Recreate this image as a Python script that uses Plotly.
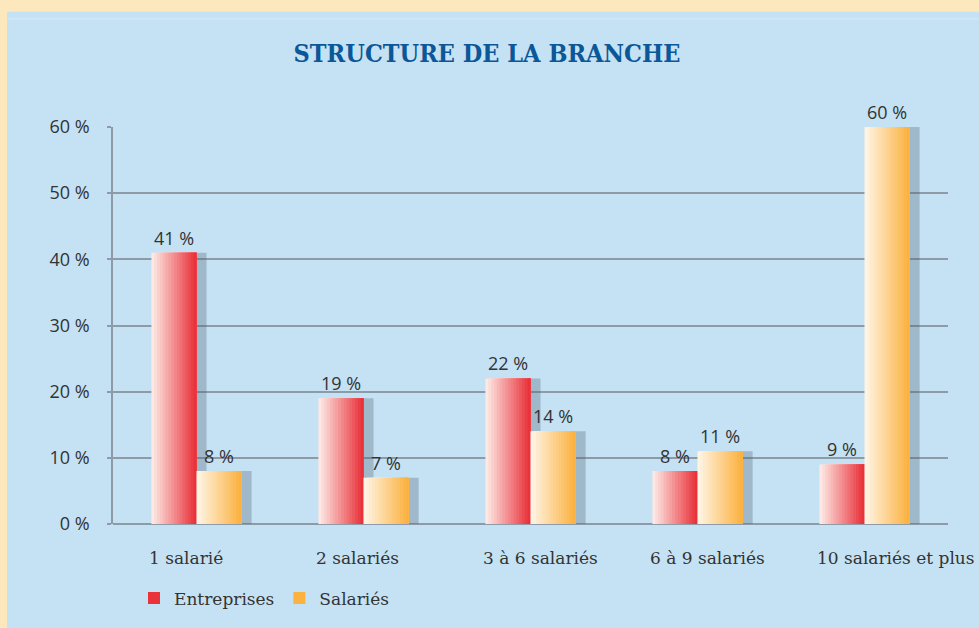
import plotly.graph_objects as go

# data
categories = ["1 salarié", "2 salariés", "3 à 6 salariés", "6 à 9 salariés", "10 salariés et plus"]
entreprises = [41, 19, 22, 8, 9]
salaries = [8, 7, 14, 11, 60]
y_ticks = [0, 10, 20, 30, 40, 50, 60]
y_ticktext = [f"{v} %" for v in y_ticks]

W, H = 979, 628
L, R, T, B = 113, 31, 127, 101
PW, PH = W - L - R, H - T - B

BAR_W = 0.27
N_SLICES = 16
SHADOW_DX = 0.06


def px_x(px):
    return (px - L) / PW


def px_y(py):
    return (H - B - py) / PH


def mix(c1, c2, t):
    return "rgb(%d,%d,%d)" % tuple(round(a + (b - a) * t) for a, b in zip(c1, c2))


series = [
    ("Entreprises", entreprises, -BAR_W, (253, 232, 228), (233, 50, 58)),
    ("Salariés", salaries, 0.0, (255, 244, 228), (251, 178, 64)),
]

fig = go.Figure()

# soft shadows to the right of the bars
for name, vals, off, c_light, c_dark in series:
    fig.add_trace(go.Bar(
        x=categories, y=vals, width=BAR_W, offset=off + SHADOW_DX,
        marker=dict(color="rgba(80,95,115,0.32)", line=dict(width=0)),
        showlegend=False, hoverinfo="skip"))

# gradient bars built from overlapping slices
for k, (name, vals, off, c_light, c_dark) in enumerate(series):
    for i in range(N_SLICES):
        t = i / (N_SLICES - 1)
        step = BAR_W / N_SLICES
        fig.add_trace(go.Bar(
            x=categories, y=vals,
            width=BAR_W - i * step, offset=off + i * step,
            marker=dict(color=mix(c_light, c_dark, t), line=dict(width=0)),
            name=name, legendrank=k + 1,
            showlegend=(i == N_SLICES - 1),
            hoverinfo="skip" if i < N_SLICES - 1 else None))
    # value labels
    fig.add_trace(go.Bar(
        x=categories, y=vals, width=BAR_W, offset=off,
        marker=dict(color="rgba(0,0,0,0)", line=dict(width=0)),
        text=[f"{v} %" for v in vals], textposition="outside",
        textfont=dict(family="Open Sans", size=18, color="#333333"),
        cliponaxis=False, showlegend=False, hoverinfo="skip"))

# category labels, left aligned under each group
for c in categories:
    fig.add_annotation(x=c, xref="x", y=px_y(561), yref="paper",
                       text=c, showarrow=False, xanchor="left", yanchor="middle",
                       xshift=-50,
                       font=dict(family="DejaVu Serif", size=17, color="#333333"))

# blue panel on cream background
fig.add_shape(type="rect", xref="paper", yref="paper", layer="below",
              x0=px_x(7), x1=px_x(W + 5), y0=px_y(H + 5), y1=px_y(11),
              fillcolor="#c5e2f4", line=dict(width=0))
fig.add_shape(type="line", xref="paper", yref="paper", layer="below",
              x0=px_x(7), x1=px_x(W + 5), y0=px_y(18), y1=px_y(18),
              line=dict(color="#d4eaf8", width=1))

grid = "#8e9aa6"
fig.update_layout(
    width=W, height=H,
    margin=dict(l=L, r=R, t=T, b=B, pad=0),
    paper_bgcolor="#fde8bd",
    plot_bgcolor="rgba(0,0,0,0)",
    barmode="overlay",
    title=dict(text="<b>STRUCTURE DE LA BRANCHE</b>",
               x=487 / W, xref="container", xanchor="center",
               y=1 - 53 / H, yref="container", yanchor="middle",
               font=dict(family="DejaVu Serif Condensed, DejaVu Serif", size=25, color="#0b5797")),
    xaxis=dict(range=[-0.5, 4.5], showticklabels=False, showgrid=False, zeroline=False,
               showline=False, ticks="", fixedrange=True),
    yaxis=dict(range=[0, 60], tickvals=y_ticks, ticktext=y_ticktext,
               showgrid=True, gridcolor=grid, gridwidth=1.5,
               showline=True, linecolor=grid, linewidth=1.5,
               zeroline=True, zerolinecolor=grid, zerolinewidth=1.5,
               ticks="outside", ticklen=4, tickcolor=grid, tickwidth=1.5,
               ticklabelstandoff=14, fixedrange=True,
               tickfont=dict(family="Open Sans", size=18, color="#333333")),
    legend=dict(orientation="h", x=px_x(134), xanchor="left",
                y=px_y(602), yanchor="middle",
                bgcolor="rgba(0,0,0,0)", itemwidth=30,
                font=dict(family="DejaVu Serif", size=17, color="#333333"),
                traceorder="normal"),
    showlegend=True,
)

fig.write_html("out.html", config={"displayModeBar": False},
               post_script="document.body.style.margin='0';")
